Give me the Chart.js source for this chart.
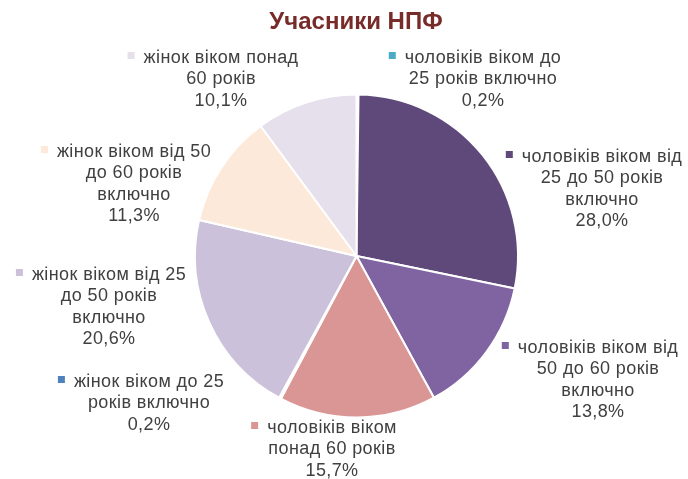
<!DOCTYPE html>
<html>
<head>
<meta charset="utf-8">
<script src="https://cdn.jsdelivr.net/npm/chart.js@4.4.1/dist/chart.umd.min.js"></script>
<style>
  html, body { margin: 0; padding: 0; background: #fff; }
  #wrap { width: 688px; height: 479px; position: relative; }
</style>
</head>
<body>
<div id="wrap"><canvas id="pie"></canvas></div>
<script>
// categories, clockwise from 12 o'clock
const categories = [
  ['чоловіків віком до', '25 років включно'],
  ['чоловіків віком від', '25 до 50 років', 'включно'],
  ['чоловіків віком від', '50 до 60 років', 'включно'],
  ['чоловіків віком', 'понад 60 років'],
  ['жінок віком до 25', 'років включно'],
  ['жінок віком від 25', 'до 50 років', 'включно'],
  ['жінок віком від 50', 'до 60 років', 'включно'],
  ['жінок віком понад', '60 років']
];
const shares = [0.2, 28.0, 13.8, 15.7, 0.2, 20.6, 11.3, 10.1];
const sliceColors = ['#4bacc6', '#5f497a', '#8064a2', '#d99694', '#4f81bd', '#ccc1da', '#fde9d9', '#e5e0ec'];

// where each data label block sits (centre x, first line y)
const labelSpots = [
  [483, 58], [602, 157], [598, 348], [332, 428],
  [149, 382], [109, 275], [134, 152], [221, 58]
];

const fmt = v => v.toFixed(1).replace('.', ',') + '%';

const labelPlugin = {
  id: 'sliceLabels',
  afterDraw(chart) {
    const ctx = chart.ctx;
    ctx.save();
    // title
    ctx.font = 'bold 24px "Liberation Sans", Arial, sans-serif';
    ctx.fillStyle = '#772c2a';
    ctx.textAlign = 'center';
    ctx.textBaseline = 'middle';
    ctx.fillText('Учасники НПФ', 356, 22);

    ctx.font = '18px "Liberation Sans", Arial, sans-serif';
    ctx.letterSpacing = '0.4px';
    const lh = 21.5;
    chart.getDatasetMeta(0).data.forEach((arc, i) => {
      const [cx, y0] = labelSpots[i];
      const lines = categories[i].concat([fmt(shares[i])]);
      ctx.fillStyle = '#404040';
      ctx.textAlign = 'center';
      lines.forEach((ln, k) => ctx.fillText(ln, cx, y0 + k * lh));
      const w = ctx.measureText(lines[0]).width;
      ctx.fillStyle = sliceColors[i];
      ctx.fillRect(cx - w / 2 - 16, y0 - 6, 7, 7);
    });
    ctx.restore();
  }
};

new Chart(document.getElementById('pie'), {
  type: 'pie',
  data: {
    labels: categories.map(c => c.join(' ')),
    datasets: [{
      data: shares,
      backgroundColor: sliceColors,
      borderColor: '#ffffff',
      borderWidth: 2
    }]
  },
  options: {
    responsive: true,
    maintainAspectRatio: false,
    animation: false,
    layout: { padding: { top: 93, bottom: 60, left: 194, right: 169 } },
    plugins: {
      legend: { display: false },
      title: { display: false },
      tooltip: { enabled: false }
    }
  },
  plugins: [labelPlugin]
});
</script>
</body>
</html>
